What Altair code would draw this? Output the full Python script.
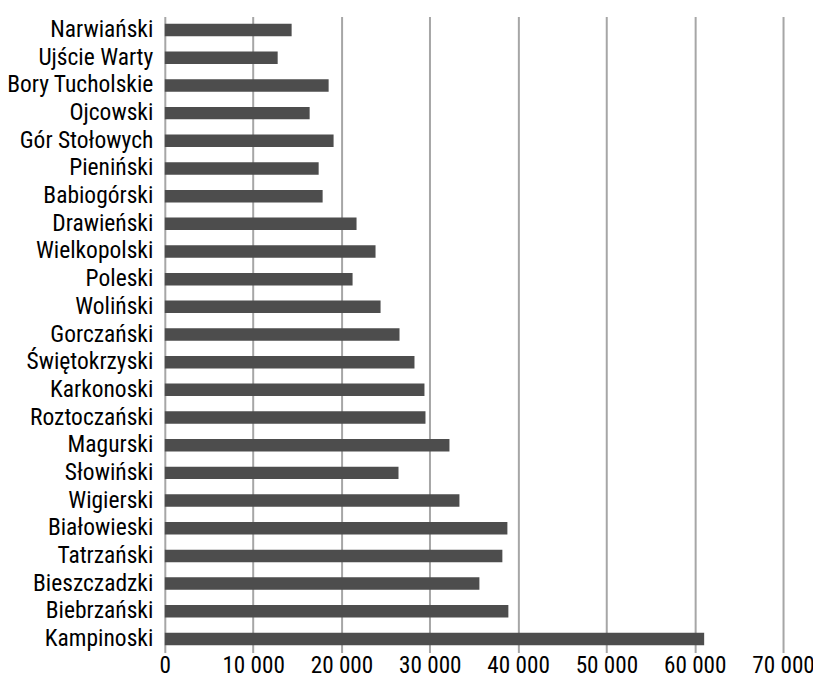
import altair as alt
import pandas as pd

parks = [
    "Narwiański", "Ujście Warty", "Bory Tucholskie", "Ojcowski", "Gór Stołowych",
    "Pieniński", "Babiogórski", "Drawieński", "Wielkopolski", "Poleski",
    "Woliński", "Gorczański", "Świętokrzyski", "Karkonoski", "Roztoczański",
    "Magurski", "Słowiński", "Wigierski", "Białowieski", "Tatrzański",
    "Bieszczadzki", "Biebrzański", "Kampinoski",
]
values = [
    14360, 12780, 18550, 16400, 19110,
    17420, 17870, 21710, 23860, 21260,
    24430, 26575, 28270, 29400, 29515,
    32230, 26460, 33360, 38790, 38220,
    35620, 38900, 61070,
]
x_ticks = [0, 10000, 20000, 30000, 40000, 50000, 60000, 70000]

df = pd.DataFrame({"park": parks, "value": values})

FONT = "Roboto Condensed, Liberation Sans Narrow, DejaVu Sans Condensed, Roboto, sans-serif"

chart = (
    alt.Chart(df)
    .mark_bar(size=12.5, color="#4d4d4d")
    .encode(
        x=alt.X(
            "value:Q",
            scale=alt.Scale(domain=[0, 70000], nice=False),
            axis=alt.Axis(
                values=x_ticks,
                title=None,
                grid=True,
                gridColor="#a6a6a6",
                gridWidth=2,
                domain=False,
                ticks=False,
                labelOverlap=False,
                labelFlush=False,
                labelPadding=20,
                labelBaseline="alphabetic",
                labelFont=FONT,
                labelFontSize=23.2,
                labelColor="#000000",
                labelExpr="replace(format(datum.value, ',d'), ',', ' ')",
            ),
        ),
        y=alt.Y(
            "park:N",
            sort=parks,
            scale=alt.Scale(paddingInner=0.55, paddingOuter=0.27),
            axis=alt.Axis(
                title=None,
                domain=False,
                ticks=False,
                grid=False,
                labelPadding=12,
                labelFont=FONT,
                labelFontSize=23.5,
                labelColor="#000000",
                labelLimit=300,
            ),
        ),
    )
    .properties(
        width=619,
        height=637,
        autosize=alt.AutoSizeParams(type="none"),
        padding={"left": 157, "top": 8, "right": 30, "bottom": 30},
    )
    .configure_view(stroke=None)
)

chart.save("out.html", embed_options={"renderer": "svg", "actions": False})
